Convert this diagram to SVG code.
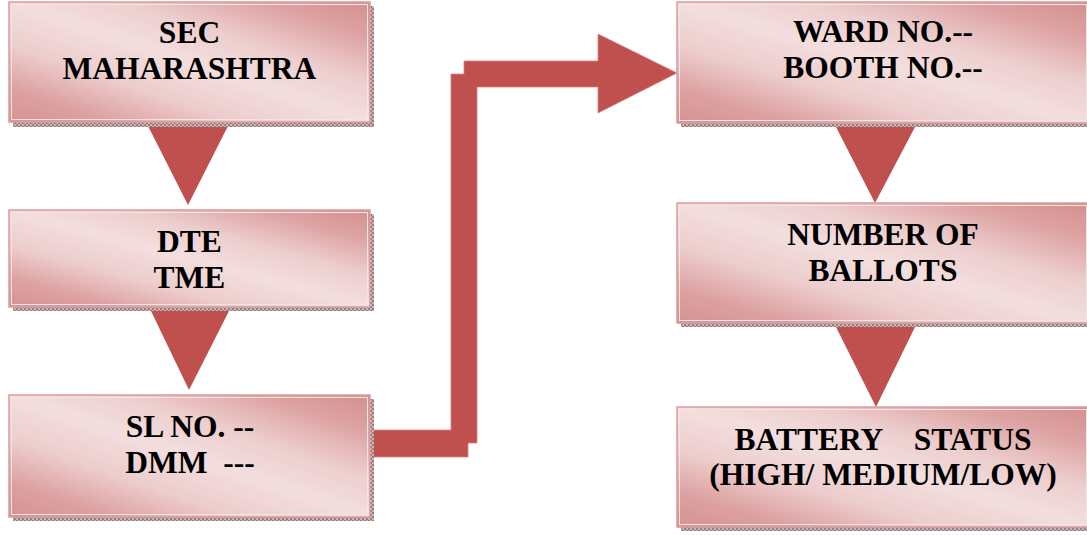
<svg xmlns="http://www.w3.org/2000/svg" width="1087" height="535" viewBox="0 0 1087 535">
<defs>
<linearGradient id="fillG" x1="0" y1="1" x2="1" y2="0">
<stop offset="0" stop-color="#D79292"/>
<stop offset="0.14" stop-color="#DCA0A0"/>
<stop offset="0.32" stop-color="#EDCDCD"/>
<stop offset="0.5" stop-color="#F3DEDE"/>
<stop offset="0.66" stop-color="#EDCECE"/>
<stop offset="0.85" stop-color="#DDA2A2"/>
<stop offset="1" stop-color="#D68F8F"/>
</linearGradient>
<pattern id="shadowP" patternUnits="userSpaceOnUse" width="4" height="4">
<rect width="4" height="4" fill="#cbb6b6"/>
<rect width="2" height="2" fill="#977d7d"/>
<rect x="2" y="2" width="2" height="2" fill="#977d7d"/>
</pattern>
<style>
.box{fill:url(#fillG);stroke:#DB9C9C;stroke-width:1.5}
.inner{fill:none;stroke:#F5E4E4;stroke-width:1}
.sh{fill:url(#shadowP)}
.lbl{font-family:"Liberation Serif","Times New Roman",serif;font-weight:bold;font-size:31.5px;fill:#000;text-anchor:middle;white-space:pre}
.arr{fill:#C0504D}
</style>
</defs>

<g id="connectors">
<polygon class="arr" points="148,126 228,126 188,205"/>
<polygon class="arr" points="151,311 229,311 189,390"/>
<polygon class="arr" points="836,127 915,127 875,203"/>
<polygon class="arr" points="836,327 915,327 876,407"/>
<polygon class="arr" stroke="#D98080" stroke-width="0.8" points="373,430 451,430 451,74 464,74 464,61 598,61 598,34 677,73 598,113 598,87 477,87 477,443 468,443 468,457 373,457"/>
</g>

<g id="node-sec">
<rect class="sh" x="13" y="6" width="361" height="121"/>
<rect class="box" x="9" y="2" width="361" height="120"/>
<rect class="inner" x="11.5" y="4.5" width="356" height="115"/>
<text class="lbl" x="189.5" y="43.3">SEC</text>
<text class="lbl" x="189.5" y="79.3">MAHARASHTRA</text>
</g>

<g id="node-dte">
<rect class="sh" x="13" y="214" width="361" height="97"/>
<rect class="box" x="9" y="210" width="361" height="97"/>
<rect class="inner" x="11.5" y="212.5" width="356" height="92"/>
<text class="lbl" x="189.5" y="251.7">DTE</text>
<text class="lbl" x="189.5" y="288.3">TME</text>
</g>

<g id="node-sl">
<rect class="sh" x="13" y="399" width="361" height="122"/>
<rect class="box" x="9" y="395" width="361" height="122"/>
<rect class="inner" x="11.5" y="397.5" width="356" height="117"/>
<text class="lbl" x="190" y="436.7">SL NO. --</text>
<text class="lbl" x="190" y="473.3">DMM  ---</text>
</g>

<g id="node-ward">
<rect class="sh" x="681" y="6" width="412" height="121"/>
<rect class="box" x="677" y="2" width="412" height="121"/>
<rect class="inner" x="679.5" y="4.5" width="407" height="116"/>
<text class="lbl" x="883" y="41.7">WARD NO.--</text>
<text class="lbl" x="883" y="78.3">BOOTH NO.--</text>
</g>

<g id="node-ballots">
<rect class="sh" x="681" y="207" width="412" height="120"/>
<rect class="box" x="677" y="203" width="412" height="120"/>
<rect class="inner" x="679.5" y="205.5" width="407" height="115"/>
<text class="lbl" x="883" y="245">NUMBER OF</text>
<text class="lbl" x="883" y="280.7">BALLOTS</text>
</g>

<g id="node-battery">
<rect class="sh" x="681" y="411" width="412" height="120"/>
<rect class="box" x="677" y="407" width="412" height="120"/>
<rect class="inner" x="679.5" y="409.5" width="407" height="115"/>
<text class="lbl" x="883" y="449.5">BATTERY    STATUS</text>
<text class="lbl" x="883" y="485">(HIGH/ MEDIUM/LOW)</text>
</g>
</svg>
